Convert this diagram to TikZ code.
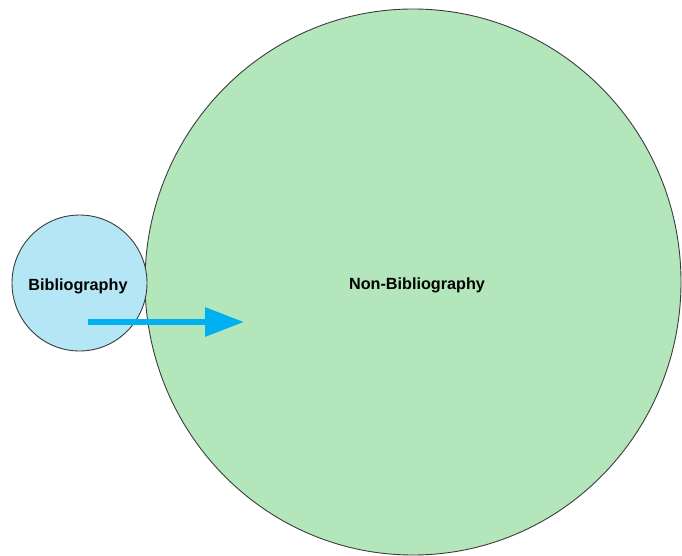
\documentclass[tikz,border=0pt]{standalone}
\usepackage{fontspec}
\setmainfont{Liberation Sans}
\usetikzlibrary{arrows.meta}
\definecolor{bibfill}{HTML}{B4E6F5}
\definecolor{nonfill}{HTML}{B3E6BA}
\definecolor{edge}{HTML}{3C3C3C}
\definecolor{arrowblue}{HTML}{00B0F0}
\tikzset{
  setshape/.style={draw=edge, line width=0.9pt},
  lbl/.style={font=\fontsize{16.2}{18}\selectfont\bfseries, text=black, inner sep=0pt},
  bigarrow/.style={arrowblue, line width=6pt, -{Triangle[length=39pt, width=28pt]}},
}
\begin{document}
\begin{tikzpicture}[x=1pt,y=-1pt]
\useasboundingbox (0,0) rectangle (682,556);
\path[setshape, fill=nonfill] (413,282) ellipse [x radius=268, y radius=273];
\path[setshape, fill=bibfill] (79.5,283) ellipse [x radius=67.5, y radius=68];
\node[lbl] (bib) at (78,286) {Bibliography};
\node[lbl] (non) at (417,285) {Non-Bibliography};
\coordinate (a0) at (88,322);
\coordinate (a1) at (244,322);
\draw[bigarrow] (a0) -- (a1);
\end{tikzpicture}
\end{document}
